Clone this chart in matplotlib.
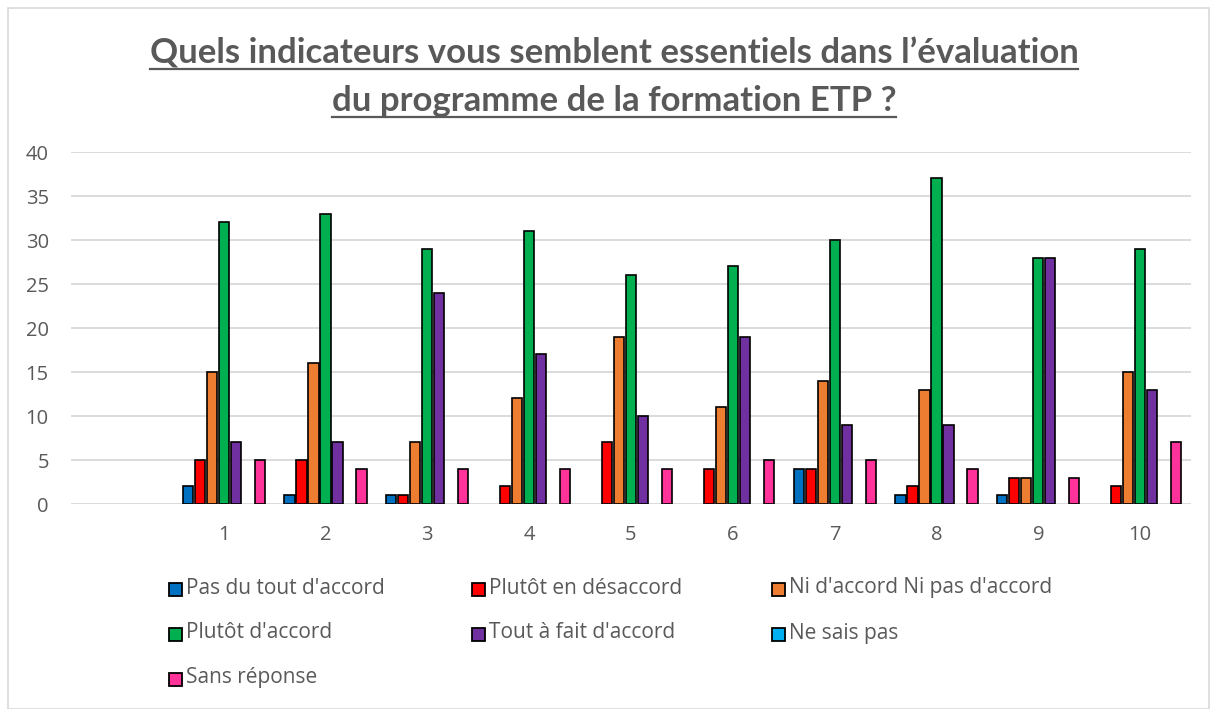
import matplotlib
matplotlib.use("Agg")
import matplotlib.pyplot as plt
from matplotlib.patches import Rectangle
from matplotlib.lines import Line2D
import numpy as np

plt.rcParams['font.family'] = ['Open Sans', 'DejaVu Sans']

categories = ["", "1", "2", "3", "4", "5", "6", "7", "8", "9", "10"]
series_names = ["Pas du tout d'accord", "Plutôt en désaccord", "Ni d'accord Ni pas d'accord",
                "Plutôt d'accord", "Tout à fait d'accord", "Ne sais pas", "Sans réponse"]
colors = ["#0070C0", "#FF0000", "#ED7D31", "#00B050", "#7030A0", "#00B0F0", "#FF3399"]

pas_du_tout = [0, 2, 1, 1, 0, 0, 0, 4, 1, 1, 0]
plutot_desaccord = [0, 5, 5, 1, 2, 7, 4, 4, 2, 3, 2]
ni_ni = [0, 15, 16, 7, 12, 19, 11, 14, 13, 3, 15]
plutot_accord = [0, 32, 33, 29, 31, 26, 27, 30, 37, 28, 29]
tout_a_fait = [0, 7, 7, 24, 17, 10, 19, 9, 9, 28, 13]
ne_sais_pas = [0, 0, 0, 0, 0, 0, 0, 0, 0, 0, 0]
sans_reponse = [0, 5, 4, 4, 4, 4, 5, 5, 4, 3, 7]

values = [pas_du_tout, plutot_desaccord, ni_ni, plutot_accord, tout_a_fait, ne_sais_pas, sans_reponse]

text_color = "#595959"
W, H = 1217, 709
fig = plt.figure(figsize=(W / 100, H / 100), dpi=100)

# chart frame
fig.patches.append(Rectangle((8 / W, 0), (1209 - 8) / W, 1 - 8 / H, transform=fig.transFigure,
                             fill=False, edgecolor="#D9D9D9", linewidth=1.2))

ax = fig.add_axes([71 / W, 1 - 504 / H, (1191 - 71) / W, (504 - 152) / H])

pitch = 0.118
width = 0.1
x = np.arange(len(categories))
for j, (vals, col) in enumerate(zip(values, colors)):
    vals = np.array(vals, dtype=float)
    mask = vals > 0
    ax.bar(x[mask] + (j - 3) * pitch, vals[mask], width=width, color=col,
           edgecolor="black", linewidth=1.2, zorder=3)

ax.set_xlim(-0.5, len(categories) - 0.5)
ax.set_ylim(0, 40)
ax.set_yticks(range(0, 41, 5))
ax.set_xticks(x)
ax.set_xticklabels(categories)
ax.grid(axis='y', color="#D9D9D9", linewidth=1.3, zorder=0)
ax.set_axisbelow(True)
for s in ax.spines.values():
    s.set_visible(False)
ax.tick_params(axis='both', length=0, colors=text_color, labelsize=14.5)
ax.tick_params(axis='y', pad=16)
ax.tick_params(axis='x', pad=15)

# title, two underlined lines
titles = ["Quels indicateurs vous semblent essentiels dans l’évaluation",
          "du programme de la formation ETP ?"]
title_texts = []
for i, t in enumerate(titles):
    title_texts.append(fig.text(614 / W, 1 - (53 + 48 * i) / H, t, ha="center", va="center",
                                fontsize=25, fontweight="bold", color=text_color,
                                family=['Lato', 'DejaVu Sans']))

# legend, filled row by row like the original
leg_x = [175, 478, 778]
leg_y = [589, 634, 679]
for k, (name, col) in enumerate(zip(series_names, colors)):
    r, c = divmod(k, 3)
    px, py = leg_x[c], leg_y[r]
    fig.patches.append(Rectangle(((px - 6.5) / W, 1 - (py + 6.5) / H), 13 / W, 13 / H,
                                 transform=fig.transFigure, facecolor=col,
                                 edgecolor="black", linewidth=1.3))
    fig.text((px + 11) / W, 1 - (py - 1) / H, name, ha="left", va="center",
             fontsize=15, color=text_color)

fig.canvas.draw()
renderer = fig.canvas.get_renderer()
for t in title_texts:
    bb = t.get_window_extent(renderer)
    yline = bb.y0 + 0.5
    fig.lines.append(Line2D([bb.x0 / W, bb.x1 / W], [yline / H, yline / H],
                            transform=fig.transFigure, color=text_color, linewidth=1.6))

fig.savefig("out.png", dpi=100)
